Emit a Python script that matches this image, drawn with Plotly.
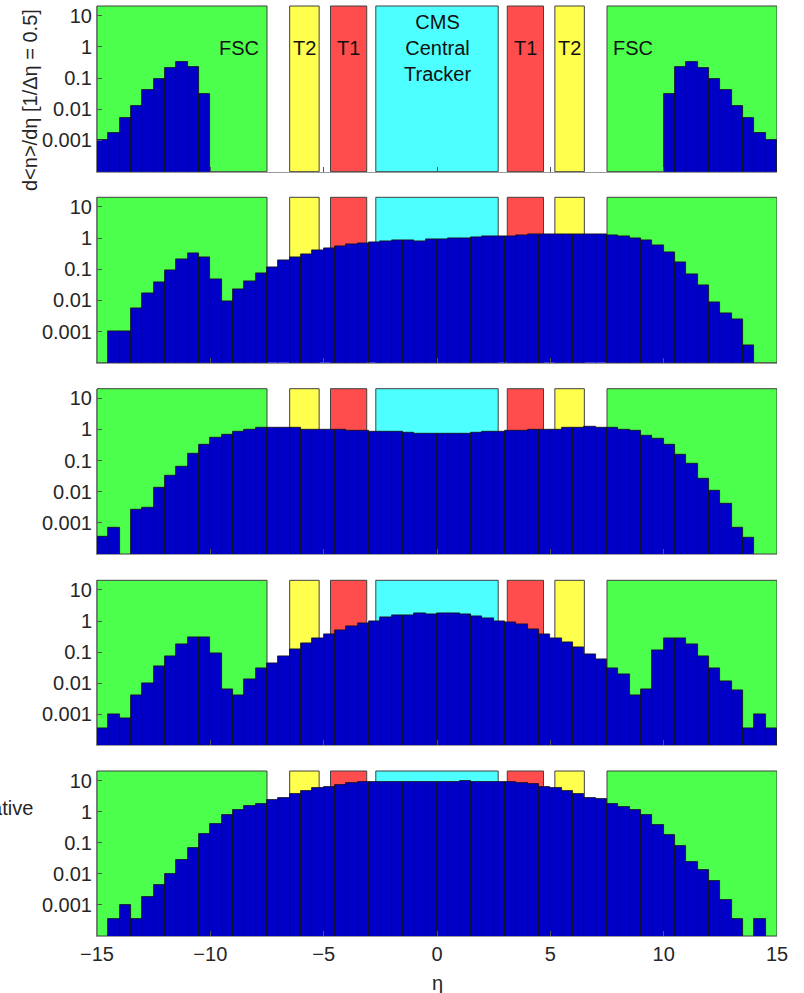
import numpy as np
import plotly.graph_objects as go

# ---------------- data ----------------
eta = list(np.arange(-14.75, 15.0, 0.5))  # bin centres, bin width 0.5

N = None
panel1 = [0.001, 0.0018, 0.0052, 0.0125, 0.041, 0.095, 0.21, 0.33, 0.22, 0.031,
          N, N, N, N, N, N, N, N, N, N,
          N, N, N, N, N, N, N, N, N, N,
          N, N, N, N, N, N, N, N, N, N,
          N, N, N, N, N, N, N, N, N, N,
          0.031, 0.22, 0.33, 0.21, 0.095, 0.041, 0.0125, 0.0052, 0.0018, 0.001]
panel2 = [N, 0.001, 0.001, 0.0056, 0.0165, 0.037, 0.093, 0.21, 0.33, 0.25,
          0.049, 0.0091, 0.023, 0.040, 0.074, 0.116, 0.20, 0.25, 0.31, 0.41,
          0.46, 0.55, 0.63, 0.69, 0.74, 0.78, 0.86, 0.85, 0.81, 0.91,
          0.91, 0.98, 1.02, 1.07, 1.12, 1.17, 1.17, 1.25, 1.31, 1.35,
          1.35, 1.35, 1.35, 1.35, 1.35, 1.23, 1.12, 1.02, 0.88, 0.58,
          0.35, 0.17, 0.071, 0.030, 0.0089, 0.0040, 0.0024, 0.00035, N, N]
panel3 = [0.00035, 0.0007, N, 0.0027, 0.0030, 0.0134, 0.033, 0.066, 0.17, 0.33,
          0.56, 0.70, 0.88, 1.02, 1.16, 1.14, 1.14, 1.10, 1.02, 1.0,
          0.98, 0.96, 0.93, 0.93, 0.88, 0.86, 0.82, 0.76, 0.71, 0.71,
          0.74, 0.71, 0.74, 0.79, 0.83, 0.83, 0.93, 0.93, 0.96, 0.96,
          1.02, 1.10, 1.10, 1.22, 1.16, 1.16, 1.0, 0.9, 0.62, 0.51,
          0.33, 0.155, 0.079, 0.026, 0.011, 0.0040, 0.00069, 0.00034, N, N]
panel4 = [0.00035, 0.001, 0.00073, 0.0042, 0.01, 0.034, 0.074, 0.175, 0.31, 0.29,
          0.094, 0.0063, 0.0042, 0.0133, 0.029, 0.043, 0.074, 0.126, 0.186, 0.27,
          0.36, 0.50, 0.69, 0.82, 1.0, 1.28, 1.55, 1.55, 1.82, 1.63,
          1.82, 1.82, 1.68, 1.41, 1.2, 1.0, 0.89, 0.77, 0.54, 0.38,
          0.28, 0.21, 0.145, 0.087, 0.060, 0.029, 0.020, 0.0042, 0.0062, 0.112,
          0.28, 0.28, 0.174, 0.075, 0.030, 0.0115, 0.0058, 0.00035, 0.001, 0.00035]
panel5 = [N, 0.00034, 0.001, 0.00034, 0.0018, 0.0044, 0.0096, 0.027, 0.070, 0.19,
          0.41, 0.79, 1.1, 1.48, 1.8, 2.3, 2.85, 3.8, 4.7, 5.7,
          6.3, 7.5, 8.1, 8.9, 9.2, 9.2, 9.2, 9.2, 9.2, 9.2,
          9.2, 9.2, 10.0, 9.2, 9.2, 9.2, 8.9, 8.5, 7.7, 6.3,
          5.7, 4.8, 3.8, 2.85, 2.5, 1.8, 1.38, 1.13, 0.79, 0.38,
          0.176, 0.076, 0.024, 0.0132, 0.0059, 0.0014, 0.00034, N, 0.00034, N]
panels = [panel1, panel2, panel3, panel4, panel5]

# detector regions (eta ranges)
det_x0 = [-15, -6.5, -4.7, -2.7, 3.1, 5.2, 7.5]
det_x1 = [-7.5, -5.2, -3.1, 2.7, 4.7, 6.5, 15]
det_col = ["rgb(77,255,77)", "rgb(255,255,77)", "rgb(255,77,77)", "rgb(77,255,255)",
           "rgb(255,77,77)", "rgb(255,255,77)", "rgb(77,255,77)"]
det_label = ["FSC", "T2", "T1", "CMS<br>Central<br>Tracker", "T1", "T2", "FSC"]
label_x = [-8.73, -5.85, -3.9, 0.0, 3.9, 5.85, 8.63]

ytickvals = [0.001, 0.01, 0.1, 1, 10]
yticktext = ["0.001", "0.01", "0.1", "1", "10"]
xtickvals = [-15, -10, -5, 0, 5, 10, 15]
xticktext = ["\u221215", "\u221210", "\u22125", "0", "5", "10", "15"]

# ---------------- figure ----------------
W, H = 804, 993
ml, mr, mt, mb = 97, 27, 6, 57
ph = H - mt - mb
# panel pixel extents (top, bottom)
pix = [(6, 171.7), (197.3, 362.7), (388.7, 554.0), (580.3, 745.3), (771.0, 936.0)]
domains = [[(H - mb - b) / ph, (H - mb - t) / ph] for t, b in pix]

FONT = "Liberation Sans, Arial, sans-serif"
fig = go.Figure()
layout = dict(
    width=W, height=H,
    margin=dict(l=ml, r=mr, t=mt, b=mb),
    plot_bgcolor="white", paper_bgcolor="white",
    showlegend=False, bargap=0,
    font=dict(family=FONT, size=20, color="#262626"),
)
shapes = []
annotations = []
for i, vals in enumerate(panels):
    n = i + 1
    xa = "x" if n == 1 else f"x{n}"
    ya = "y" if n == 1 else f"y{n}"
    fig.add_trace(go.Bar(
        x=eta, y=vals, width=0.5, xaxis=xa, yaxis=ya,
        marker=dict(color="rgb(0,0,200)", line=dict(color="#101010", width=0.8)),
    ))
    layout[f"xaxis{'' if n == 1 else n}"] = dict(
        domain=[0, 1], anchor=ya, range=[-15, 15],
        showgrid=False, zeroline=False,
        showline=True, linecolor="#9a9a9a", linewidth=1,
        tickvals=xtickvals, ticktext=xticktext,
        ticks="inside", ticklen=5, tickcolor="#555",
        showticklabels=(n == 5),
        matches=None if n == 1 else "x",
    )
    layout[f"yaxis{'' if n == 1 else n}"] = dict(
        domain=domains[i], anchor=xa, type="log", range=[-4, 1.31],
        showgrid=False, zeroline=False,
        showline=True, linecolor="#7a7a7a", linewidth=1,
        tickvals=ytickvals, ticktext=yticktext,
        ticks="inside", ticklen=5, tickcolor="#555",
    )
    for x0, x1, c in zip(det_x0, det_x1, det_col):
        shapes.append(dict(type="rect", xref=xa, yref=f"{ya} domain",
                           x0=x0, x1=x1, y0=0, y1=1, fillcolor=c,
                           line=dict(color="#404040", width=1), layer="below"))

for lx, lab in zip(label_x, det_label):
    ax = dict(x=lx, y=0.747, xref="x", yref="y domain", text=lab,
              showarrow=False, font=dict(family=FONT, size=20, color="#111"),
              xanchor="center", yanchor="middle")
    annotations.append(ax)

annotations.append(dict(
    x=(30 - ml) / (W - ml - mr), y=(H - mb - 100) / ph, xref="paper", yref="paper",
    text="d&lt;n&gt;/d\u03b7 [1/\u0394\u03b7 = 0.5]", textangle=-90, showarrow=False,
    font=dict(family=FONT, size=20, color="#262626"), xanchor="center", yanchor="middle"))
annotations.append(dict(
    x=(35 - ml) / (W - ml - mr), y=(H - mb - 808) / ph, xref="paper", yref="paper",
    text="Relative", showarrow=False,
    font=dict(family=FONT, size=20, color="#262626"), xanchor="right", yanchor="middle"))
annotations.append(dict(
    x=0.5, y=(H - mb - 983) / ph, xref="paper", yref="paper",
    text="\u03b7", showarrow=False,
    font=dict(family=FONT, size=20, color="#262626"), xanchor="center", yanchor="middle"))

layout["shapes"] = shapes
layout["annotations"] = annotations
fig.update_layout(**layout)
fig.write_html("out.html")
